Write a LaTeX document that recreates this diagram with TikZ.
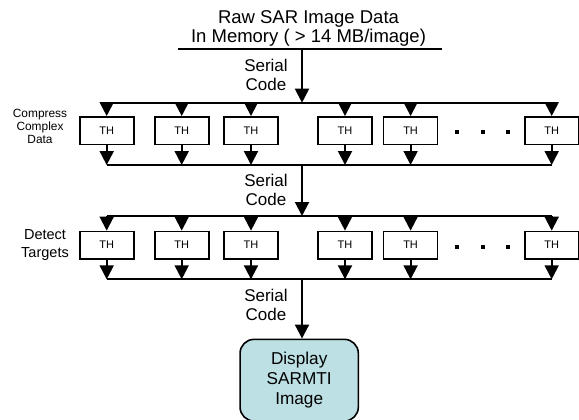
\documentclass[tikz,border=0pt]{standalone}
\usepackage{fontspec}
\setmainfont{Liberation Sans}
\usetikzlibrary{arrows.meta}
\definecolor{dispfill}{RGB}{188,224,228}
\begin{document}
\begin{tikzpicture}[x=1pt,y=-1pt,
  arr/.style={line width=2pt,-{Triangle[width=14pt,length=14pt]}},
  bus/.style={line width=2pt},
  thbox/.style={draw,line width=1.6pt,fill=white,minimum width=54pt,minimum height=27.5pt,inner sep=0pt,font=\fontsize{11}{13}\selectfont},
  sqdot/.style={fill=black,minimum size=4pt,inner sep=0pt},
  lbl/.style={align=center,inner sep=0pt},
]
\useasboundingbox (0,0) rectangle (579,420);

% title
\node[lbl,font=\fontsize{18.5}{19.4}\selectfont] (title) at (308.5,28.5) {Raw SAR Image Data\\In Memory ( > 14 MB/image)};
\coordinate (tl) at (178.3,49.3);
\coordinate (tr) at (441.7,49.3);
\draw[bus] (tl) -- (tr);
\coordinate (sp0) at (302,49.3);

% serial code labels
\node[lbl,font=\fontsize{17}{19}\selectfont] (s1) at (266,74.5) {Serial\\Code};
\node[lbl,font=\fontsize{17}{19}\selectfont] (s2) at (266,189.5) {Serial\\Code};
\node[lbl,font=\fontsize{17}{19}\selectfont] (s3) at (266,304.5) {Serial\\Code};

% side labels
\node[lbl,font=\fontsize{11.9}{13.3}\selectfont] (l1) at (40,126.5) {Compress\\Complex\\Data};
\node[lbl,font=\fontsize{14.5}{17.7}\selectfont] (l2) at (45,245) {Detect\\Targets};

% bus coordinates
\coordinate (b1l) at (106.7,102.7); \coordinate (b1r) at (551.7,102.7);
\coordinate (c1l) at (106.7,165);   \coordinate (c1r) at (551.7,165);
\coordinate (b2l) at (106.7,216);   \coordinate (b2r) at (551.7,216);
\coordinate (c2l) at (106.7,279.3); \coordinate (c2r) at (551.7,279.3);

\draw[bus] (b1l) -- (b1r);
\draw[bus] (c1l) -- (c1r);
\draw[bus] (b2l) -- (b2r);
\draw[bus] (c2l) -- (c2r);

% TH boxes
\foreach \n/\x in {1/106.7,2/181.7,3/251,4/345,5/410.6,6/551.7} {
  \node[thbox] (a\n) at (\x,130.6) {TH};
  \node[thbox] (b\n) at (\x,245.2) {TH};
}
\foreach \n in {1,...,6} {
  \draw[arr] (a\n.north |- b1l) -- (a\n.north);
  \draw[arr] (a\n.south) -- (a\n.south |- c1l);
  \draw[arr] (b\n.north |- b2l) -- (b\n.north);
  \draw[arr] (b\n.south) -- (b\n.south |- c2l);
}

% dots
\foreach \n/\x in {1/457.3,2/483,3/508.3} {
  \node[sqdot] (da\n) at (\x,131.7) {};
  \node[sqdot] (db\n) at (\x,246.7) {};
}

% display box
\node[draw,line width=1.6pt,fill=dispfill,rounded corners=14pt,minimum width=118.3pt,minimum height=81.7pt,align=center,inner sep=0pt,font=\fontsize{17.2}{20}\selectfont] (disp) at (299.2,380.2) {Display\\SARMTI\\Image};

% spine arrows
\draw[arr] (sp0) -- (sp0 |- b1l);
\draw[arr] (sp0 |- c1l) -- (sp0 |- b2l);
\draw[arr] (sp0 |- c2l) -- (sp0 |- disp.north);
\end{tikzpicture}
\end{document}
